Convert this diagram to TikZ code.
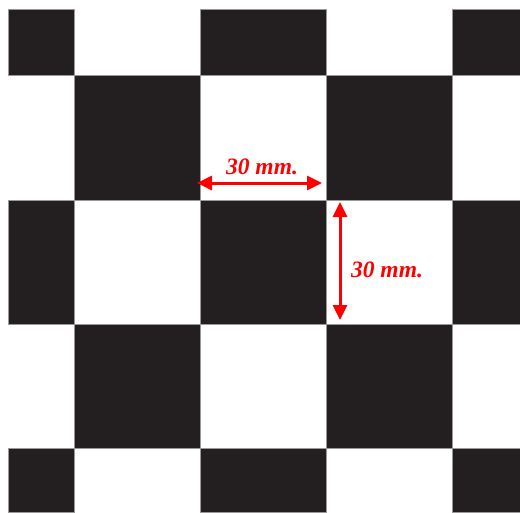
\documentclass[tikz,border=0pt]{standalone}
\usepackage{fontspec}
\setmainfont{Liberation Serif}
\usetikzlibrary{arrows.meta}
\definecolor{boardblack}{HTML}{231F20}
\tikzset{
  cell/.style={fill=boardblack, draw=black!40, line width=0.5pt},
  dimarrow/.style={draw=red, line width=3pt, {Triangle[length=15pt,width=14pt]}-{Triangle[length=15pt,width=14pt]}},
  dimlabel/.style={text=red, font=\fontsize{23.5}{25}\selectfont\bfseries\itshape, inner sep=0pt}
}

\begin{document}
\begin{tikzpicture}[x=1pt, y=-1pt]
		%%%%% START %%%%%
		\useasboundingbox (0, 0) rectangle (520, 512);
		\fill[white] (0, 0) rectangle (520, 512);
		
		% black squares
		\foreach \xa/\ya/\xb/\yb in {8/9/74/75, 200/9/326/75, 452/9/520/75,
		                              74/75/200/200, 326/75/452/200,
		                              8/200/74/324, 200/200/326/324, 452/200/520/324,
		                              74/324/200/448, 326/324/452/448,
		                              8/448/74/512, 200/448/326/512, 452/448/520/512}
		  \draw[cell] (\xa, \ya) rectangle (\xb, \yb);
		
		% horizontal size
		\coordinate (hleft) at (197, 183);
		\coordinate (hright) at (322, 183);
		\draw[dimarrow] (hleft) -- (hright);
		\node[dimlabel] (hlabel) at (262, 167) {30 mm.};
		
		% vertical size
		\coordinate (vtop) at (340, 202);
		\coordinate (vbottom) at (340, 320);
		\draw[dimarrow] (vtop) -- (vbottom);
		\node[dimlabel] (vlabel) at (387, 270) {30 mm.};
		
		%%%%% END %%%%%
	\end{tikzpicture}
\end{document}
